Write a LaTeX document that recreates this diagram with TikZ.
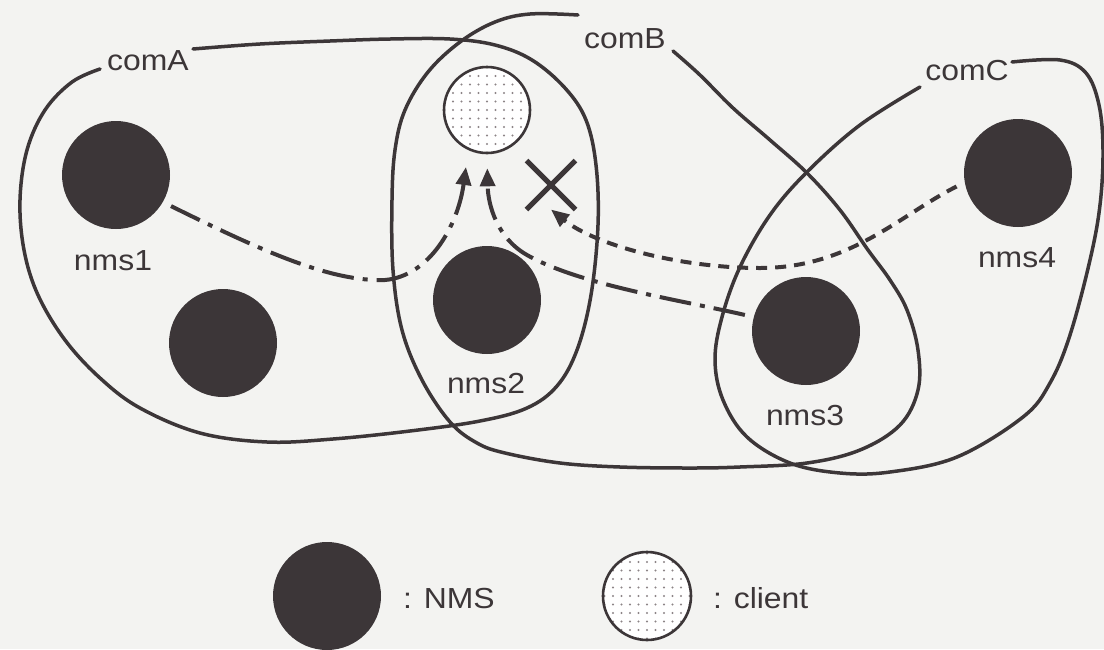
\documentclass[tikz,border=0pt]{standalone}
\usepackage{fontspec}
\setmainfont{Liberation Sans}[FakeStretch=1.1]
\usetikzlibrary{arrows.meta,shapes.misc}
\definecolor{ink}{HTML}{3C3638}
\definecolor{paper}{HTML}{F3F3F1}
\definecolor{dotgray}{HTML}{8C8486}
\begin{document}
\begin{tikzpicture}[x=1pt,y=-1pt,
  txt/.style={anchor=base, inner sep=0pt, text=ink, font=\fontsize{29}{34}\selectfont},
  nms/.style={circle, fill=ink, minimum size=108pt, inner sep=0pt},
  clientnode/.style={circle, draw=ink, line width=2.6pt, fill=white,
    minimum size=86pt, inner sep=0pt,
    path picture={
      \foreach \i in {-6,...,6}
        \foreach \j in {-6,...,6}
          \fill[dotgray] ([shift={(\i*8.5,\j*8.5)}]path picture bounding box.center) circle (1.2pt);
    }},
  community/.style={draw=ink, line width=3.5pt, line cap=round, line join=round},
  request/.style={draw=ink, line width=4pt,
    dash pattern=on 32pt off 9pt on 5pt off 9pt,
    -{Triangle[length=18pt,width=15pt]}, shorten <=9pt},
  blocked/.style={draw=ink, line width=4pt,
    dash pattern=on 11pt off 8pt,
    -{Triangle[length=18pt,width=15pt]}, shorten <=9pt},
  denied/.style={cross out, draw=ink, line width=5pt, minimum size=44pt, inner sep=0pt}
]
\fill[paper] (0,0) rectangle (1104,649);
\useasboundingbox (0,0) rectangle (1104,649);

% community comA
\draw[community] plot[smooth, tension=0.6] coordinates {
  (100,69) (72,82) (45,110) (27,150) (20,200) (24,250) (38,295) (65,340)
  (100,378) (140,408) (200,433) (267,442) (333,439) (410,431) (480,421)
  (527,408) (557,386) (577,350) (591,295) (598,225) (596,165) (586,120)
  (565,88) (532,60) (495,45) (450,39) (390,39) (330,41) (260,44) (193,49)};
\node[txt] (comA) at (148,70) {comA};

% community comB
\draw[community] plot[smooth, tension=0.6] coordinates {
  (673,51) (700,75) (733,108) (770,140) (807,173) (840,210) (868,250)
  (890,280) (907,310) (918,350) (918,390) (900,425) (860,450) (807,463)
  (740,467) (690,468) (620,467) (560,463) (505,453) (477,443) (450,422)
  (422,380) (402,330) (393,270) (392,200) (395,150) (405,110) (428,72)
  (460,42) (495,22) (530,14) (578,15)};
\node[txt] (comB) at (625,48) {comB};

% community comC
\draw[community] plot[smooth, tension=0.6] coordinates {
  (1012,62) (1060,60) (1086,73) (1099,105) (1103,150) (1100,205)
  (1090,260) (1070,335) (1050,383) (1023,417) (957,457) (890,472)
  (840,473) (790,463) (747,437) (723,400) (715,360) (722,317) (740,267)
  (770,215) (807,172) (860,125) (920,87)};
\node[txt] (comC) at (967,80) {comC};

% managers and the client
\node[nms] (n1) at (116,175) {};
\node[nms] (n0) at (223,343) {};
\node[nms] (n2) at (487,300) {};
\node[nms] (n3) at (806,331) {};
\node[nms] (n4) at (1018,173) {};
\node[clientnode] (client) at (487,110) {};
\node[denied] (deny) at (551,185) {};

\node[txt] (l1) at (113,270) {nms1};
\node[txt] (l2) at (486,393) {nms2};
\node[txt] (l3) at (805,425) {nms3};
\node[txt] (l4) at (1017,267) {nms4};

% requests towards the client
\draw[request, shorten >=17pt] (n1.-30)
  .. controls (260,250) and (330,282) .. (385,280)
  .. controls (430,276) and (458,225) .. (client.245);
\draw[request, shorten >=14pt] (n3.165)
  .. controls (680,300) and (580,285) .. (527,255)
  .. controls (497,238) and (488,205) .. (client.270);
\draw[blocked] (n4.190)
  .. controls (900,215) and (850,268) .. (760,268)
  .. controls (680,268) and (595,245) .. (deny.south);

% legend
\node[nms] (legN) at (327,596) {};
\node[txt, anchor=base west] (legNt) at (403,608) {: NMS};
\node[clientnode, minimum size=88pt] (legC) at (647,596) {};
\node[txt, anchor=base west] (legCt) at (713,608) {: client};
\end{tikzpicture}
\end{document}
